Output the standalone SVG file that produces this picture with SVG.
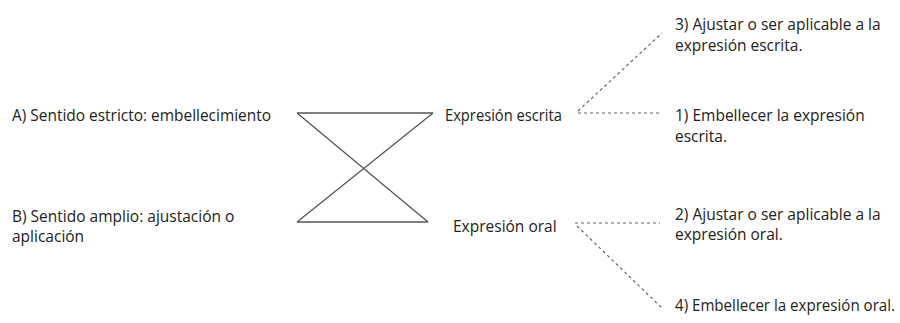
<svg xmlns="http://www.w3.org/2000/svg" width="900" height="323" viewBox="0 0 900 323">
  <style>
    text { font-family: "Open Sans", "Noto Sans", "Liberation Sans", sans-serif; font-size: 15.5px; fill: #222; }
    .solid { stroke: #555; stroke-width: 1.3; fill: none; }
    .dash { stroke: #666; stroke-width: 1.2; stroke-dasharray: 3 3; fill: none; }
  </style>
  <rect width="900" height="323" fill="#fff"/>

  <!-- connectors -->
  <g id="connectors">
    <line class="solid" x1="297" y1="113" x2="433" y2="113"/>
    <line class="solid" x1="297" y1="222" x2="428" y2="222"/>
    <line class="solid" x1="297" y1="113" x2="428" y2="222"/>
    <line class="solid" x1="433" y1="113" x2="297" y2="222"/>
    <line class="dash" x1="578" y1="113" x2="660" y2="113"/>
    <line class="dash" x1="578" y1="111" x2="662" y2="33"/>
    <line class="dash" x1="575" y1="223" x2="660" y2="223"/>
    <line class="dash" x1="577" y1="226" x2="662" y2="308"/>
  </g>

  <g id="sense-a"><text x="12" y="121" textLength="259" lengthAdjust="spacingAndGlyphs">A) Sentido estricto: embellecimiento</text></g>
  <g id="sense-b">
    <text x="12" y="222">B) Sentido amplio: ajustación o</text>
    <text x="12" y="242">aplicación</text>
  </g>

  <g id="written"><text x="445" y="121" textLength="117" lengthAdjust="spacingAndGlyphs">Expresión escrita</text></g>
  <g id="oral"><text x="453" y="232">Expresión oral</text></g>

  <g id="item-3">
    <text x="675" y="30">3) Ajustar o ser aplicable a la</text>
    <text x="675" y="51">expresión escrita.</text>
  </g>
  <g id="item-1">
    <text x="675" y="121">1) Embellecer la expresión</text>
    <text x="675" y="142">escrita.</text>
  </g>
  <g id="item-2">
    <text x="675" y="220">2) Ajustar o ser aplicable a la</text>
    <text x="675" y="240">expresión oral.</text>
  </g>
  <g id="item-4">
    <text x="675" y="311" textLength="220" lengthAdjust="spacingAndGlyphs">4) Embellecer la expresión oral.</text>
  </g>
</svg>
